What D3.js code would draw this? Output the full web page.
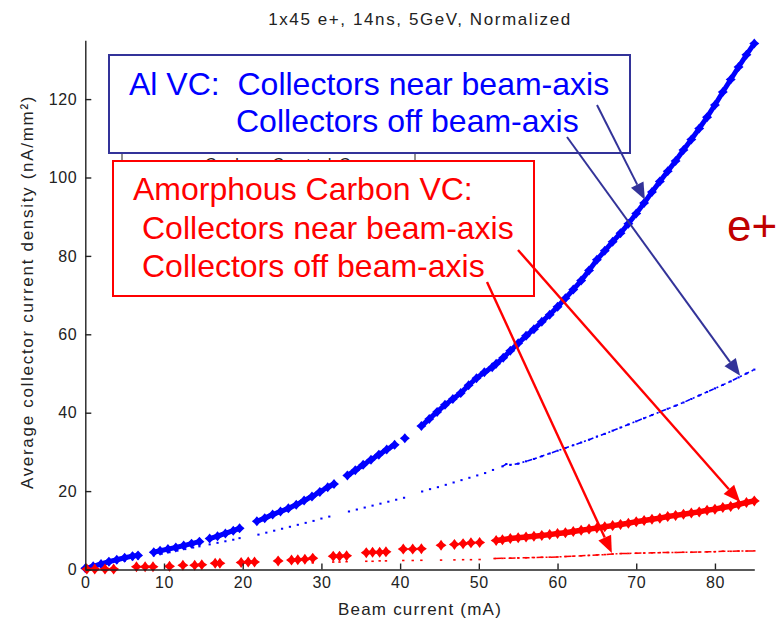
<!DOCTYPE html>
<html>
<head>
<meta charset="utf-8">
<script src="https://cdn.jsdelivr.net/npm/d3@7"></script>
<style>
  html, body { margin: 0; padding: 0; background: #fff; }
  svg { display: block; font-family: "Liberation Sans", Arial, sans-serif; }
</style>
</head>
<body>
<svg id="chart" width="784" height="625"></svg>
<script>
// ---- chart text ----
const title = "1x45 e+, 14ns, 5GeV, Normalized";
const xLabel = "Beam current (mA)";
const yLabel = "Average collector current density (nA/mm²)";
const xTicks = [0, 10, 20, 30, 40, 50, 60, 70, 80];
const yTicks = [0, 20, 40, 60, 80, 100, 120];

// ---- Al vacuum chamber, collectors near the beam axis ----
const alNearX = [0,1,2,3,4,5,6,6.7,8.7,9.5,10.5,11.5,12.5,13.5,14.5,15.8,16.8,17.8,18.8,19.6,
  21.8,22.8,23.8,24.8,25.8,26.8,27.8,28.8,29.8,30.8,31.6,33.3,34.3,35.3,36.3,37.3,38.3,39.3,40.6,
  42.7,43.7,44.7,45.7,46.7,47.7,48.7,49.7,50.7,51.7,52.2,53.1,54,55,56,57,58,59,60,61,62,63,64,65,
  66,67,68,69,70,71,72,73,74,75,76,77,78,79,80,81,82,83,84,85];
const alNearY = [0.3,0.8,1.4,2.0,2.5,3.0,3.4,3.6,4.4,4.8,5.2,5.6,6.1,6.6,7.1,7.9,8.5,9.2,9.9,10.5,
  12.3,13.1,14.0,14.8,15.6,16.5,17.6,18.6,19.8,21.0,21.8,24.0,25.3,26.7,28.0,29.3,30.6,31.8,33.5,
  36.6,38.4,40.2,42.0,43.5,45.0,47.0,48.8,50.3,51.6,52.5,54.0,55.8,57.7,59.6,61.3,63.2,65.0,67.0,69.2,71.4,73.7,76.3,79.0,
  81.3,83.6,85.8,88.2,90.8,93.5,96.3,99.0,101.6,104.2,107.0,109.7,112.5,115.4,118.5,121.8,125.0,128.2,131.3,134.2];

// ---- Al vacuum chamber, collectors off the beam axis ----
const alOffX = [0,1,2,3,4,5,6,6.7,8.7,9.7,10.7,11.7,12.7,13.7,14.5,15.8,16.8,17.8,18.8,19.6,
  22,23,24,25,26,27,28,29,30,31,33.5,34.5,35.5,36.5,37.5,38.5,39.5,40.5,
  42.8,43.8,44.8,45.8,46.8,47.8,48.8,49.8,50.8,51.8,53,53.5,54,55,56,57,58,59,60,61,62,63,64,65,
  66,67,68,69,70,71,72,73,74,75,76,77,78,79,80,81,82,83,84,85];
const alOffY = [0.2,0.6,1.0,1.4,1.8,2.2,2.6,2.8,3.6,4.0,4.4,4.8,5.2,5.6,5.9,6.4,6.8,7.2,7.6,8.0,
  8.9,9.4,9.9,10.4,10.9,11.4,11.9,12.4,13.0,13.5,14.8,15.3,15.8,16.3,16.8,17.3,17.8,18.3,
  19.9,20.5,21.0,21.6,22.2,22.8,23.4,24.0,24.6,25.4,26.3,26.9,26.7,27.0,27.6,28.2,28.9,29.6,30.3,31.0,31.7,32.4,33.1,33.9,
  34.6,35.4,36.2,37.0,37.8,38.6,39.4,40.2,41.0,41.8,42.6,43.5,44.4,45.3,46.2,47.1,48.0,49.0,50.0,51.0];

// ---- Amorphous carbon chamber, collectors near the beam axis ----
const cNearX = [0.2,1.2,2.5,3.6,6.5,7.6,8.6,10.7,12.4,13.9,14.8,16.5,17.1,19.8,20.7,21.5,24.5,
  26.2,27.0,27.9,28.9,31.5,32.3,33.2,35.7,36.5,37.4,38.2,40.4,41.6,42.7,45.2,46.9,48.0,49.0,50.1,
  52.2,53,54,55,56,57,58,59,60,61,62,63,64,65,66,67,68,69,70,71,72,73,74,75,76,77,78,79,80,81,82,83,84,85];
const cNearY = [0.1,0.1,0.1,0.1,0.7,0.7,0.7,0.8,1.1,1.1,1.2,1.6,1.6,1.8,1.9,1.9,2.2,
  2.4,2.5,2.6,2.9,3.4,3.4,3.5,4.3,4.4,4.4,4.5,5.2,5.2,5.3,6.2,6.4,6.6,6.8,6.9,
  7.4,7.6,7.9,8.1,8.3,8.5,8.7,8.9,9.2,9.4,9.7,10.0,10.3,10.6,10.9,11.2,11.5,11.8,12.2,12.5,12.8,13.1,13.5,13.8,14.1,14.4,14.7,15.1,15.4,15.8,16.1,16.6,17.1,17.5];
const cNearDenseFrom = 52;

// ---- Amorphous carbon chamber, collectors off the beam axis ----
const cOffX = [28.9,31.5,32.3,33.2,35.7,36.5,37.4,38.2,40.4,41.6,42.7,45.2,46.9,48.0,49.0,50.1,
  52,53,54,55,56,57,58,59,60,61,62,63,64,65,66,67,68,69,70,71,72,73,74,75,76,77,78,79,80,81,82,83,84,85];
const cOffY = [1.7,1.9,1.9,2.0,2.1,2.1,2.2,2.2,2.3,2.3,2.35,2.4,2.45,2.5,2.5,2.55,
  2.8,2.85,2.9,2.95,3.0,3.05,3.1,3.15,3.2,3.3,3.4,3.5,3.6,3.7,3.8,3.95,4.05,4.1,4.15,4.2,4.25,4.3,4.35,4.35,4.4,4.4,4.45,4.5,4.55,4.65,4.65,4.7,4.7,4.75];

const BLUE = "#0000ff", RED = "#ff0000", NAVY = "#333399", DARKRED = "#c00000", INK = "#222";

const svg = d3.select("#chart");
const x = d3.scaleLinear().domain([0, 85]).range([85.3, 754.3]);
const y = d3.scaleLinear().domain([0, 135]).range([569.5, 40.3]);

const zip = (xs, ys) => xs.map((v, i) => ({ x: v, y: ys[i] }));
const alNear = zip(alNearX, alNearY);
const alOff = zip(alOffX, alOffY);
const cNear = zip(cNearX, cNearY);
const cOff = zip(cOffX, cOffY);

// split a run of points where the sampling has a hole
function runs(pts, maxGap) {
  const out = [];
  let cur = [];
  pts.forEach((p, i) => {
    if (i > 0 && p.x - pts[i - 1].x > maxGap) { out.push(cur); cur = []; }
    cur.push(p);
  });
  if (cur.length) out.push(cur);
  return out;
}
const line = d3.line().x(d => x(d.x)).y(d => y(d.y));

// four-pointed star marker
function star(r, a) {
  return `M0,${-r}L${a},${-a}L${r},0L${a},${a}L0,${r}L${-a},${a}L${-r},0L${-a},${-a}Z`;
}

const plot = svg.append("g");

// off-axis collectors: small dots
function dots(g, pts, color, w, h) {
  g.selectAll(null).data(pts).join("rect")
    .attr("x", d => x(d.x) - w / 2).attr("y", d => y(d.y) - h / 2)
    .attr("width", w).attr("height", h).attr("fill", color);
}
const gAlOff = plot.append("g");
dots(gAlOff, alOff, BLUE, 2.2, 2);
runs(alOff.filter(d => d.x >= 53), 1.2).forEach(r =>
  gAlOff.append("path").attr("d", line(r)).attr("fill", "none")
    .attr("stroke", BLUE).attr("stroke-width", 1.6).attr("stroke-dasharray", "5 3 2 3"));

const gCOff = plot.append("g");
dots(gCOff, cOff, RED, 2.4, 1.6);
runs(cOff.filter(d => d.x >= 52), 1.2).forEach(r =>
  gCOff.append("path").attr("d", line(r)).attr("fill", "none")
    .attr("stroke", RED).attr("stroke-width", 1.5).attr("stroke-dasharray", "7 2 2 3"));

// near-axis collectors: heavy star markers
const gAlNear = plot.append("g");
runs(alNear, 1.25).forEach(r =>
  gAlNear.append("path").attr("d", line(r)).attr("fill", "none")
    .attr("stroke", BLUE).attr("stroke-width", 5).attr("stroke-linecap", "round"));
gAlNear.selectAll(null).data(alNear).join("path")
  .attr("transform", d => `translate(${x(d.x)},${y(d.y)})`)
  .attr("d", star(5, 2.3)).attr("fill", BLUE);

const gCNear = plot.append("g");
runs(cNear.filter(d => d.x >= cNearDenseFrom), 1.2).forEach(r =>
  gCNear.append("path").attr("d", line(r)).attr("fill", "none")
    .attr("stroke", RED).attr("stroke-width", 5.5).attr("stroke-linecap", "round"));
gCNear.selectAll(null).data(cNear).join("path")
  .attr("transform", d => `translate(${x(d.x)},${y(d.y)})`)
  .attr("d", star(5.5, 2.3)).attr("fill", RED);

// ---- axes (ticks pointing inward, no box) ----
const axisFont = g => g.selectAll("text")
  .attr("font-family", "'Liberation Sans', Arial, sans-serif")
  .attr("font-size", 16).attr("fill", INK).attr("letter-spacing", 0.6);

const gx = svg.append("g").attr("transform", `translate(0,${y(0)})`)
  .call(d3.axisBottom(x).tickValues(xTicks).tickFormat(d3.format("d"))
    .tickSizeInner(-6).tickSizeOuter(0).tickPadding(7));
gx.call(axisFont);
const gy = svg.append("g").attr("transform", `translate(${x(0)},0)`)
  .call(d3.axisLeft(y).tickValues(yTicks).tickFormat(d3.format("d"))
    .tickSizeInner(-6).tickSizeOuter(0).tickPadding(8));
gy.call(axisFont);
[gx, gy].forEach(g => {
  g.select(".domain").attr("stroke", INK).attr("stroke-width", 1.4);
  g.selectAll(".tick line").attr("stroke", INK).attr("stroke-width", 1.4);
});

svg.append("text").attr("x", 420).attr("y", 25).attr("text-anchor", "middle")
  .attr("font-size", 17).attr("letter-spacing", 1.6).attr("fill", INK).text(title);
svg.append("text").attr("x", 420).attr("y", 615).attr("text-anchor", "middle")
  .attr("font-size", 17).attr("letter-spacing", 1.2).attr("fill", INK).text(xLabel);
svg.append("text").attr("transform", "translate(27,292) rotate(-90)")
  .attr("text-anchor", "middle").attr("dominant-baseline", "central")
  .attr("font-size", 17).attr("letter-spacing", 1.7).attr("fill", INK).text(yLabel);

// ---- plot legend, mostly covered by the annotation boxes ----
svg.append("defs").append("clipPath").attr("id", "legend-strip")
  .append("rect").attr("x", 100).attr("y", 150).attr("width", 340).attr("height", 10);
const gLegend = svg.append("g").attr("clip-path", "url(#legend-strip)");
gLegend.append("rect").attr("x", 122).attr("y", 146).attr("width", 293).attr("height", 150)
  .attr("fill", "#fff").attr("stroke", INK).attr("stroke-width", 1);
gLegend.append("text").attr("x", 205).attr("y", 170).attr("font-size", 16)
  .attr("letter-spacing", 1.5).attr("fill", INK).text("Carbon Coated Cu");

// ---- annotation boxes ----
const big = { "font-size": 32, "font-family": "'Liberation Sans', Arial, sans-serif" };
function label(txt, px, py, color) {
  const t = svg.append("text").attr("x", px).attr("y", py).attr("fill", color)
    .attr("xml:space", "preserve").style("white-space", "pre").text(txt);
  Object.entries(big).forEach(([k, v]) => t.attr(k, v));
}
svg.append("rect").attr("x", 109).attr("y", 55).attr("width", 521).attr("height", 98)
  .attr("fill", "#fff").attr("stroke", NAVY).attr("stroke-width", 2);
label("Al VC:  Collectors near beam-axis", 129, 95, BLUE);
label("Collectors off beam-axis", 236, 132, BLUE);

svg.append("rect").attr("x", 113).attr("y", 161).attr("width", 421).attr("height", 135)
  .attr("fill", "#fff").attr("stroke", RED).attr("stroke-width", 2);
label("Amorphous Carbon VC:", 133, 200, RED);
label("Collectors near beam-axis", 142, 239, RED);
label("Collectors off beam-axis", 142, 277, RED);

svg.append("text").attr("x", 727).attr("y", 241).attr("font-size", 44)
  .attr("fill", DARKRED).text("e+");

// ---- arrows from the boxes to their curves ----
function arrow(x1, y1, tipX, tipY, color, w) {
  const x2 = x(tipX), y2 = y(tipY);
  const ang = Math.atan2(y2 - y1, x2 - x1);
  const L = 17, H = 7;
  const bx = x2 - L * Math.cos(ang), by = y2 - L * Math.sin(ang);
  svg.append("line").attr("x1", x1).attr("y1", y1).attr("x2", bx).attr("y2", by)
    .attr("stroke", color).attr("stroke-width", w);
  const px = -Math.sin(ang) * H, py = Math.cos(ang) * H;
  svg.append("path")
    .attr("d", `M${x2},${y2}L${bx + px},${by + py}L${bx - px},${by - py}Z`)
    .attr("fill", color);
}
arrow(597, 105, 71.1, 94.3, NAVY, 2);
arrow(567, 137, 83.2, 49.4, NAVY, 2);
arrow(518, 250, 83.2, 17.2, RED, 2.4);
arrow(487, 282, 66.9, 4.2, RED, 2.4);
</script>
</body>
</html>
